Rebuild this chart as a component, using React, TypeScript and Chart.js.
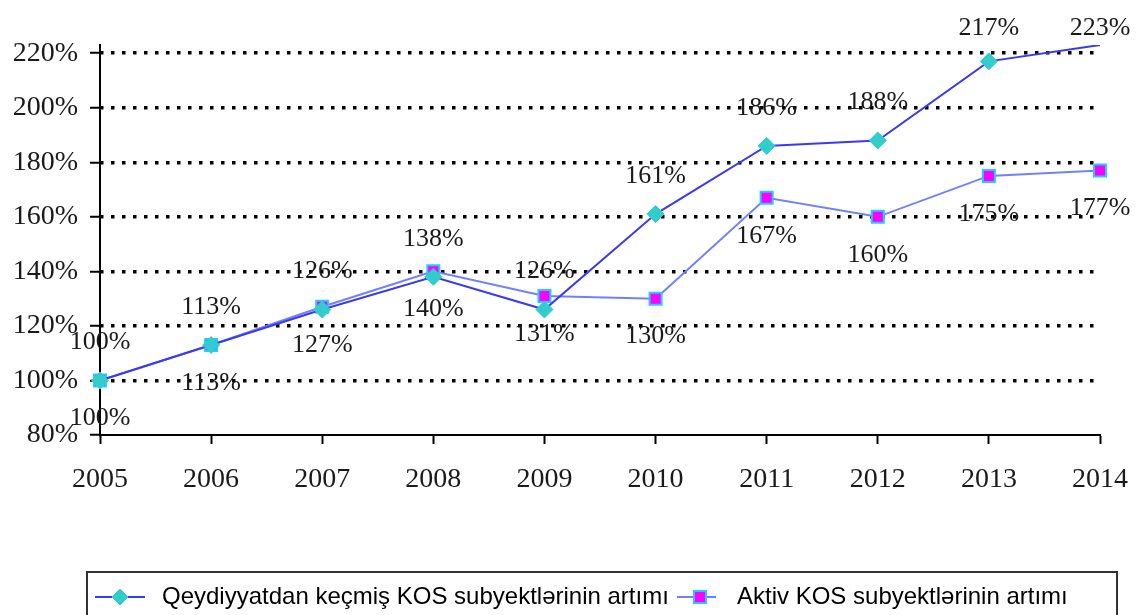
import React, { useEffect, useRef } from "react";
import { Chart, registerables } from "chart.js";

Chart.register(...registerables);

const years = ["2005", "2006", "2007", "2008", "2009", "2010", "2011", "2012", "2013", "2014"];
const registeredGrowth = [100, 113, 126, 138, 126, 161, 186, 188, 217, 223];
const activeGrowth = [100, 113, 127, 140, 131, 130, 167, 160, 175, 177];
const yTickValues = [80, 100, 120, 140, 160, 180, 200, 220];
const seriesNames = [
  "Qeydiyyatdan keçmiş KOS subyektlərinin artımı",
  "Aktiv KOS subyektlərinin artımı",
];

const SERIF = "'Liberation Serif', 'Times New Roman', serif";
const SANS = "'Liberation Sans', Arial, sans-serif";

const valueLabels = {
  id: "valueLabels",
  afterDatasetsDraw(chart: any) {
    const ctx = chart.ctx;
    ctx.save();
    ctx.font = `26px ${SERIF}`;
    ctx.fillStyle = "#1a1a1a";
    ctx.textAlign = "center";
    ctx.textBaseline = "middle";
    chart.data.datasets.forEach((ds: any, i: number) => {
      const meta = chart.getDatasetMeta(i);
      meta.data.forEach((pt: any, j: number) => {
        const y = i === 0 ? Math.max(pt.y - 38, 28) : pt.y + 38;
        ctx.fillText(`${ds.data[j]}%`, pt.x, y);
      });
    });
    ctx.restore();
  },
};

const boxLegend = {
  id: "boxLegend",
  afterDraw(chart: any) {
    const ctx = chart.ctx;
    const ds = chart.data.datasets;
    ctx.save();
    ctx.strokeStyle = "#333";
    ctx.lineWidth = 2;
    ctx.strokeRect(87, 572, 1030, 70);
    const cy = 597;
    const items = [
      { x0: 95, x1: 145, mx: 120, text: 162 },
      { x0: 677, x1: 716, mx: 700, text: 737 },
    ];
    items.forEach((it, i) => {
      const d = ds[i];
      ctx.strokeStyle = d.borderColor;
      ctx.lineWidth = 2;
      ctx.beginPath();
      ctx.moveTo(it.x0, cy);
      ctx.lineTo(it.x1, cy);
      ctx.stroke();
      const mx = it.mx;
      ctx.fillStyle = d.pointBackgroundColor;
      ctx.strokeStyle = d.pointBorderColor;
      ctx.lineWidth = d.pointBorderWidth;
      ctx.beginPath();
      if (i === 0) {
        ctx.moveTo(mx, cy - 8);
        ctx.lineTo(mx + 8, cy);
        ctx.lineTo(mx, cy + 8);
        ctx.lineTo(mx - 8, cy);
        ctx.closePath();
      } else {
        ctx.rect(mx - 6, cy - 6, 12, 12);
      }
      ctx.fill();
      ctx.stroke();
      ctx.fillStyle = "#000";
      ctx.font = `24px ${SANS}`;
      ctx.textAlign = "left";
      ctx.textBaseline = "middle";
      ctx.fillText(d.label, it.text, cy);
    });
    ctx.restore();
  },
};

export default function App() {
  const ref = useRef<HTMLCanvasElement>(null);
  useEffect(() => {
    if (!ref.current) return;
    const chart = new Chart(ref.current, {
      type: "line",
      data: {
        labels: years,
        datasets: [
          {
            label: seriesNames[0],
            data: registeredGrowth,
            borderColor: "#3a3af2",
            borderWidth: 2,
            pointStyle: "rectRot",
            pointRadius: registeredGrowth.map((_, i) => (i === registeredGrowth.length - 1 ? 0 : 8.5)),
            pointBackgroundColor: "#33cccc",
            pointBorderColor: "#33cccc",
            pointBorderWidth: 1,
            tension: 0,
          },
          {
            label: seriesNames[1],
            data: activeGrowth,
            borderColor: "#7080ff",
            borderWidth: 2,
            pointStyle: "rect",
            pointRadius: 8.5,
            pointBackgroundColor: "#ff00ff",
            pointBorderColor: "#22ccff",
            pointBorderWidth: 2,
            tension: 0,
          },
        ],
      },
      options: {
        responsive: false,
        animation: false,
        layout: { padding: { top: 45, right: 44, left: 0, bottom: 0 } },
        plugins: { legend: { display: false }, tooltip: { enabled: false } },
        events: [],
        scales: {
          x: {
            offset: false,
            border: { color: "#000", width: 2 },
            grid: {
              drawOnChartArea: false,
              drawTicks: true,
              tickLength: 9,
              tickColor: "#000",
              tickWidth: 2,
            },
            ticks: {
              color: "#1a1a1a",
              font: { family: SERIF, size: 28 },
              padding: 19,
              maxRotation: 0,
              autoSkip: false,
            },
            afterFit(scale: any) {
              scale.height = 180;
              scale.paddingLeft = 0;
              scale.paddingRight = 0;
            },
          },
          y: {
            min: 80,
            max: 223,
            border: { color: "#000", width: 2, dash: [3.5, 7.5], dashOffset: 1 },
            afterBuildTicks(scale: any) {
              scale.ticks = yTickValues.map((v) => ({ value: v }));
            },
            afterFit(scale: any) {
              scale.width = 100;
            },
            grid: {
              color: (c: any) => (c.tick && c.tick.value === 80 ? "rgba(0,0,0,0)" : "#000"),
              lineWidth: 3.5,
              tickColor: "#000",
              tickWidth: 2,
              tickLength: 10,
              tickBorderDash: [],
            },
            ticks: {
              color: "#1a1a1a",
              font: { family: SERIF, size: 28 },
              padding: 12,
              callback: (v: any) => `${v}%`,
            },
          },
        },
      },
      plugins: [valueLabels, boxLegend],
    });
    return () => chart.destroy();
  }, []);
  return (
    <div style={{ position: "fixed", left: 0, top: 0, width: 1144, height: 615, background: "#fff" }}>
      <canvas ref={ref} width={1144} height={615} />
    </div>
  );
}
